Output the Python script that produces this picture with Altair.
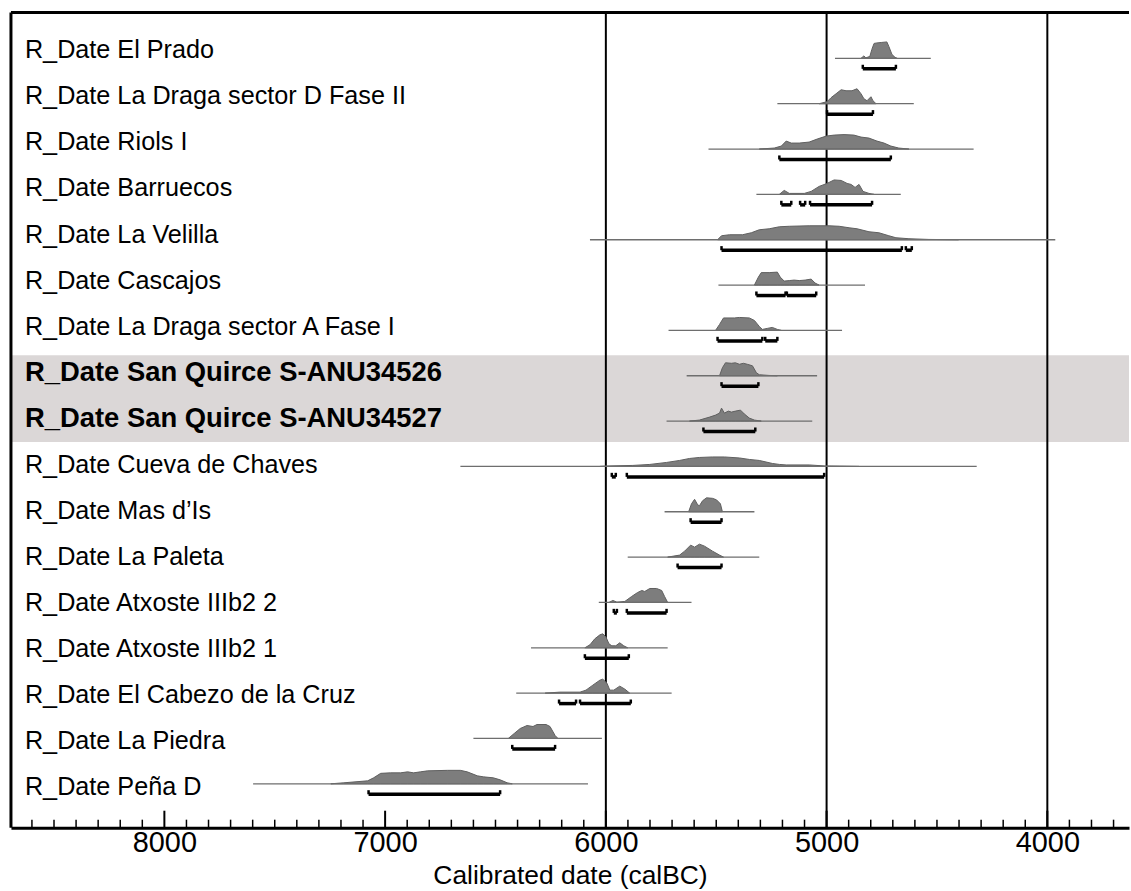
import altair as alt
import pandas as pd

# ---------------- data ----------------
labels = [
    "R_Date El Prado",
    "R_Date La Draga sector D Fase II",
    "R_Date Riols I",
    "R_Date Barruecos",
    "R_Date La Velilla",
    "R_Date Cascajos",
    "R_Date La Draga sector A  Fase I",
    "R_Date San Quirce S-ANU34526",
    "R_Date San Quirce S-ANU34527",
    "R_Date Cueva de Chaves",
    "R_Date Mas d\u2019Is",
    "R_Date La Paleta",
    "R_Date Atxoste IIIb2 2",
    "R_Date Atxoste IIIb2 1",
    "R_Date El Cabezo de la Cruz",
    "R_Date La Piedra",
    "R_Date Pe\u00f1a D",
]
highlighted = [False] * 7 + [True, True] + [False] * 8

# extent of the thin likelihood line (calBC)
line_start = [4962, 5223, 5535, 5318, 6072, 5490, 5716, 5634, 5725, 6659, 5734, 5901, 6032, 6339, 6406, 6600, 7598]
line_end = [4528, 4605, 4334, 4664, 3964, 4826, 4930, 5043, 5065, 4320, 5327, 5305, 5612, 5720, 5702, 6018, 6081]

# posterior distributions: years (calBC) and relative density
prado_years = [4844, 4831, 4822, 4804, 4795, 4785, 4772, 4750, 4727, 4718, 4704, 4690, 4680]
prado_dens = [0, 2.5, 0.5, 2, 9, 15, 15.5, 16, 16.5, 12, 4, 1, 0]
dragaD_years = [5034, 4998, 4980, 4957, 4934, 4912, 4885, 4862, 4844, 4831, 4817, 4799, 4790, 4776]
dragaD_dens = [0, 2, 6, 10, 14, 13, 13, 15, 10, 5, 3, 7, 3, 0]
riols_years = [5305, 5237, 5205, 5183, 5160, 5124, 5079, 5043, 5002, 4966, 4921, 4876, 4844, 4808, 4772, 4740, 4709, 4673, 4627]
riols_dens = [0, 1, 3, 8, 6, 6, 7, 10, 13, 14, 14.5, 14, 12, 11, 8, 6, 3, 1, 0]
barr_years = [5214, 5192, 5169, 5101, 5070, 5034, 4998, 4966, 4934, 4907, 4889, 4871, 4853, 4835, 4808, 4785]
barr_dens = [0, 4, 1, 1, 3, 8, 11, 14.5, 14, 11, 10, 7, 10, 3, 1, 0]
velilla_years = [5494, 5476, 5440, 5381, 5341, 5305, 5260, 5214, 5169, 5079, 4989, 4943, 4898, 4862, 4844, 4808, 4763, 4718, 4686, 4627, 4537, 4402]
velilla_dens = [0, 4, 5, 5, 7, 10, 11, 13, 13.5, 14, 14, 13.5, 12, 11, 10, 8, 7, 4, 2, 1, 0.3, 0]
casc_years = [5327, 5309, 5296, 5260, 5223, 5210, 5192, 5169, 5147, 5124, 5097, 5070, 5052, 5034]
casc_dens = [0, 8, 12.5, 12.5, 13, 8, 4, 4.5, 5, 4.5, 5, 6, 2, 0]
dragaA_years = [5503, 5485, 5467, 5418, 5395, 5350, 5327, 5305, 5291, 5269, 5246, 5223, 5205]
dragaA_dens = [0, 6, 12.5, 12.5, 13, 12.5, 10, 4, 1, 2, 3, 1, 0]
sq26_years = [5485, 5472, 5458, 5431, 5413, 5395, 5377, 5359, 5336, 5318, 5305, 5260, 5223]
sq26_dens = [0, 8, 13, 12.5, 13, 11.5, 12.5, 11.5, 10, 3, 1, 0.3, 0]
sq27_years = [5621, 5576, 5530, 5503, 5485, 5476, 5463, 5445, 5431, 5413, 5390, 5372, 5350, 5327, 5296]
sq27_dens = [0, 1, 4, 6, 8, 13, 8, 10, 9, 10, 11, 7, 3, 1, 0]
chaves_years = [6027, 5982, 5878, 5801, 5725, 5666, 5621, 5576, 5517, 5463, 5395, 5350, 5305, 5246, 5214, 5183, 5079, 5011, 4943, 4853]
chaves_dens = [0, 0.5, 1, 2, 4, 6, 8, 9, 9.5, 9.5, 8.5, 7, 6, 3, 2, 1.5, 1.5, 0.5, 0.3, 0]
masdis_years = [5625, 5612, 5598, 5584, 5576, 5562, 5544, 5517, 5499, 5481, 5472]
masdis_dens = [0, 8, 12.5, 7, 6, 11, 14, 13.5, 12, 8, 0]
paleta_years = [5720, 5666, 5643, 5616, 5598, 5576, 5553, 5517, 5485, 5467]
paleta_dens = [0, 2, 6, 12, 10, 13, 11, 6, 2, 0]
atx2_years = [5986, 5968, 5950, 5914, 5883, 5856, 5837, 5824, 5801, 5770, 5747, 5734, 5720]
atx2_dens = [0, 2, 0.3, 1, 6, 10, 12, 11, 14, 14, 12, 6, 0]
atx1_years = [6095, 6072, 6050, 6027, 6014, 6000, 5986, 5973, 5955, 5937, 5919, 5901]
atx1_dens = [0, 3, 9, 13, 14, 11, 4, 2, 2, 5, 2, 0]
cabezo_years = [6275, 6208, 6117, 6090, 6059, 6027, 6014, 5995, 5982, 5964, 5937, 5914, 5892]
cabezo_dens = [0, 1, 1, 3, 8, 13, 14, 10, 3, 3, 7, 4, 0]
piedra_years = [6442, 6415, 6388, 6357, 6330, 6312, 6271, 6253, 6230, 6217]
piedra_dens = [0, 5, 10, 13, 12, 14, 14, 12, 3, 0]
pena_years = [7246, 7187, 7079, 7052, 7020, 6975, 6930, 6898, 6871, 6840, 6808, 6718, 6659, 6628, 6582, 6555, 6510, 6479, 6447, 6424]
pena_dens = [0, 1, 3, 6, 10.5, 11, 11, 12, 11, 12, 13, 13.5, 13.5, 12, 8, 7, 6, 4, 1, 0]

dist_years = [prado_years, dragaD_years, riols_years, barr_years, velilla_years, casc_years,
              dragaA_years, sq26_years, sq27_years, chaves_years, masdis_years, paleta_years,
              atx2_years, atx1_years, cabezo_years, piedra_years, pena_years]
dist_dens = [prado_dens, dragaD_dens, riols_dens, barr_dens, velilla_dens, casc_dens,
             dragaA_dens, sq26_dens, sq27_dens, chaves_dens, masdis_dens, paleta_dens,
             atx2_dens, atx1_dens, cabezo_dens, piedra_dens, pena_dens]

# 95.4% highest posterior density ranges (start, end) in calBC
hpd_ranges = [
    [(4836, 4686)],
    [(4998, 4790)],
    [(5214, 4709)],
    [(5205, 5160), (5120, 5097), (5075, 4794)],
    [(5476, 4659), (4641, 4614)],
    [(5318, 5186), (5180, 5047)],
    [(5494, 5291), (5278, 5223)],
    [(5476, 5309)],
    [(5558, 5323)],
    [(5973, 5955), (5905, 5011)],
    [(5616, 5476)],
    [(5675, 5476)],
    [(5964, 5950), (5905, 5725)],
    [(6095, 5896)],
    [(6212, 6135), (6117, 5887)],
    [(6424, 6230)],
    [(7075, 6479)],
]

grid_years = [6000, 5000, 4000]
axis_labels = [8000, 7000, 6000, 5000, 4000]
tick_years = list(range(8600, 3600, -100))

# ---------------- layout constants ----------------
W, H = 1122, 818
ROW = 45.5                      # pixels per row of distributions
Y_DOMAIN = [-1.011, 16.967]     # row units, top -> bottom
DENS_SCALE = 1.0 / ROW
BAR_OFF = 0.231
TEXT_FIRST = -8.0 / ROW         # first label sits a little above its distribution
TEXT_STEP = 46.2 / ROW          # labels are spaced slightly wider than rows

# ---------------- frames ----------------
area_rows, line_rows, bar_rows, hook_rows, text_rows = [], [], [], [], []
for r, lab in enumerate(labels):
    for yv, dv in zip(dist_years[r], dist_dens[r]):
        area_rows.append({"site": lab, "year": yv, "top": r - dv * DENS_SCALE, "base": r})
    line_rows.append({"site": lab, "s": line_start[r], "e": line_end[r], "y": r})
    for k, (a, b) in enumerate(hpd_ranges[r]):
        bar_rows.append({"site": lab, "s": a, "e": b, "y": r + BAR_OFF})
        for endp in (a, b):
            hook_rows.append({"x": endp, "y": r + BAR_OFF, "y2": r + BAR_OFF - 0.09})
    text_rows.append({"label": lab, "y": TEXT_FIRST + r * TEXT_STEP, "bold": highlighted[r]})

area_df = pd.DataFrame(area_rows)
line_df = pd.DataFrame(line_rows)
bar_df = pd.DataFrame(bar_rows)
hook_df = pd.DataFrame(hook_rows)
text_df = pd.DataFrame(text_rows)
grid_df = pd.DataFrame({"year": grid_years})
minor_df = pd.DataFrame({"year": [t for t in tick_years if t % 1000 != 0]})
major_df = pd.DataFrame({"year": [t for t in tick_years if t % 1000 == 0]})
band_df = pd.DataFrame({"y0": [6.55], "y1": [8.46]})

xscale = alt.Scale(domain=[8695, 3630], nice=False, zero=False)
yscale = alt.Scale(domain=Y_DOMAIN, reverse=True, nice=False, zero=False)
xaxis = alt.Axis(
    values=axis_labels, format="d", grid=False, ticks=False, tickSize=0,
    domainColor="black", domainWidth=3, labelFont="Liberation Sans",
    labelFontSize=29, labelColor="black", labelPadding=1, labelFlush=False,
    title="Calibrated date (calBC)", titleFont="Liberation Sans", titleFontSize=26.5,
    titleFontWeight="normal", titleColor="black", titlePadding=5,
)

band = alt.Chart(band_df).mark_rect(color="#dbd7d7").encode(
    y=alt.Y("y0:Q", scale=yscale, axis=None), y2="y1:Q",
    x=alt.value(0), x2=alt.value(W),
)
grid = alt.Chart(grid_df).mark_rule(color="black", strokeWidth=2).encode(
    x=alt.X("year:Q", scale=xscale, axis=xaxis),
    y=alt.value(0), y2=alt.value(H),
)
areas = alt.Chart(area_df).mark_area(
    color="#7d7d7d", stroke="#5f5f5f", strokeWidth=1, orient="vertical", fillOpacity=1
).encode(
    x=alt.X("year:Q", scale=xscale, axis=xaxis),
    y=alt.Y("top:Q", scale=yscale, axis=None), y2="base:Q",
    detail="site:N",
)
lines = alt.Chart(line_df).mark_rule(color="#6e6e6e", strokeWidth=1.3).encode(
    x=alt.X("s:Q", scale=xscale, axis=xaxis), x2="e:Q",
    y=alt.Y("y:Q", scale=yscale, axis=None),
)
bars = alt.Chart(bar_df).mark_rule(color="black", strokeWidth=3.5).encode(
    x=alt.X("s:Q", scale=xscale, axis=xaxis), x2="e:Q",
    y=alt.Y("y:Q", scale=yscale, axis=None),
)
hooks = alt.Chart(hook_df).mark_rule(color="black", strokeWidth=2.5).encode(
    x=alt.X("x:Q", scale=xscale, axis=xaxis),
    y=alt.Y("y:Q", scale=yscale, axis=None), y2="y2:Q",
)
text_reg = alt.Chart(text_df).transform_filter("!datum.bold").mark_text(
    align="left", baseline="middle", font="Liberation Sans", fontSize=25.3, color="black"
).encode(x=alt.value(14), y=alt.Y("y:Q", scale=yscale, axis=None), text="label:N")
text_bold = alt.Chart(text_df).transform_filter("datum.bold").mark_text(
    align="left", baseline="middle", font="Liberation Sans", fontSize=27.5,
    fontWeight="bold", color="black"
).encode(x=alt.value(14), y=alt.Y("y:Q", scale=yscale, axis=None), text="label:N")
minor = alt.Chart(minor_df).mark_rule(color="black", strokeWidth=1.5).encode(
    x=alt.X("year:Q", scale=xscale, axis=xaxis), y=alt.value(H), y2=alt.value(H - 8),
)
major = alt.Chart(major_df).mark_rule(color="black", strokeWidth=2).encode(
    x=alt.X("year:Q", scale=xscale, axis=xaxis), y=alt.value(H), y2=alt.value(H - 17),
)
frame_top = alt.Chart(band_df).mark_rule(color="black", strokeWidth=3).encode(
    x=alt.value(0), x2=alt.value(W), y=alt.value(0),
)
frame_left = alt.Chart(band_df).mark_rule(color="black", strokeWidth=3).encode(
    x=alt.value(0), y=alt.value(0), y2=alt.value(H),
)

chart = alt.layer(
    band, grid, areas, lines, bars, hooks, text_reg, text_bold, minor, major, frame_top, frame_left
).properties(
    width=W, height=H,
    padding={"left": 9, "top": 9, "right": 0, "bottom": 0},
    background="white",
).configure_view(stroke=None)

chart.save("out.html", embed_options={"renderer": "svg", "actions": False})
